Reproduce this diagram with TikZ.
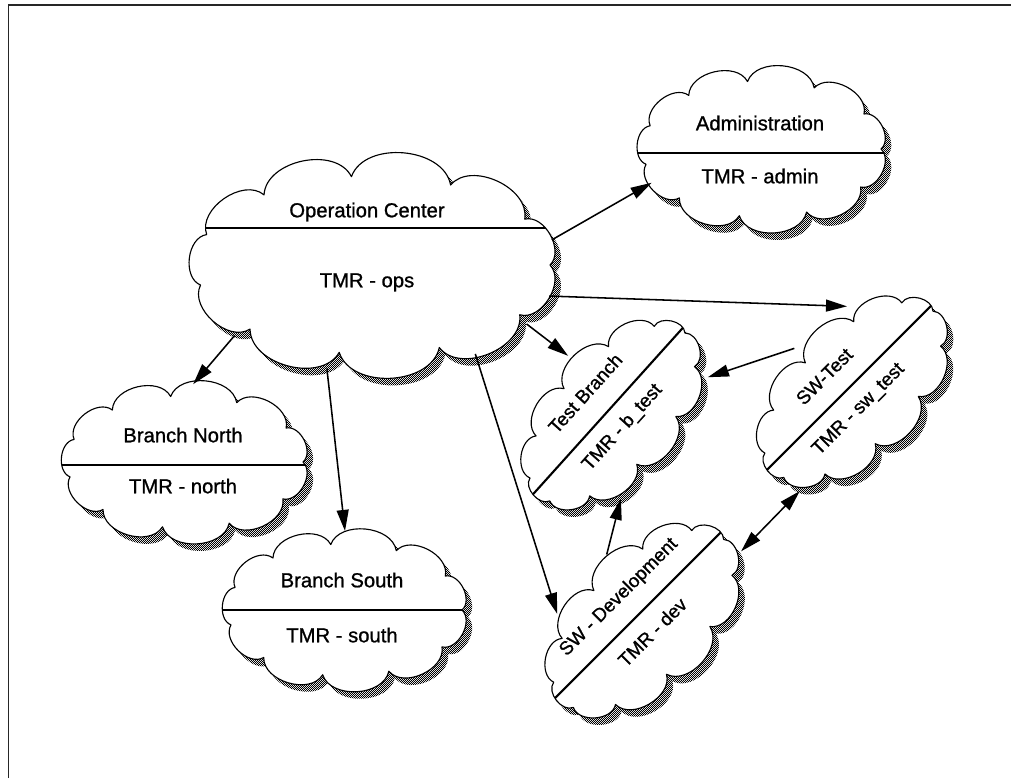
\documentclass[tikz,border=0pt]{standalone}
\usepackage{fontspec}
\setmainfont{Liberation Sans}
\newfontfamily\lblfamily[FakeBold=1]{Liberation Sans}
\usetikzlibrary{shapes.geometric,patterns,arrows.meta}
\pgfdeclarepatternformonly{shadedots}{\pgfqpoint{0pt}{0pt}}{\pgfqpoint{1.42pt}{1.42pt}}{\pgfqpoint{1.42pt}{1.42pt}}{%
  \pgfpathrectangle{\pgfqpoint{0pt}{0pt}}{\pgfqpoint{0.71pt}{0.71pt}}%
  \pgfpathrectangle{\pgfqpoint{0.71pt}{0.71pt}}{\pgfqpoint{0.71pt}{0.71pt}}%
  \pgfusepath{fill}}
\newcommand\hfont{\lblfamily\fontsize{14.4}{17}\selectfont}
\newcommand\rfont{\lblfamily\fontsize{13.4}{16}\selectfont}
\newcommand\cloudpath{(0:{\ca} and {\cb}) to[bend right=75] (31:{\ca} and {\cb}) to[bend right=75] (64:{\ca} and {\cb}) to[bend right=75] (97:{\ca} and {\cb}) to[bend right=75] (128:{\ca} and {\cb}) to[bend right=75] (160:{\ca} and {\cb}) to[bend right=75] (193:{\ca} and {\cb}) to[bend right=75] (226:{\ca} and {\cb}) to[bend right=75] (259:{\ca} and {\cb}) to[bend right=75] (292:{\ca} and {\cb}) to[bend right=75] (326:{\ca} and {\cb}) to[bend right=75] (360:{\ca} and {\cb}) -- cycle}
\tikzset{
  cloudline/.style={draw=black, fill=white, line width=0.8pt, line join=round},
  cloudshadow/.style={pattern=shadedots, pattern color=black},
  divider/.style={line width=1.5pt},
  anchorell/.style={ellipse, inner sep=0pt, outer sep=0pt},
  hlbl/.style={font=\hfont, inner sep=0pt, text height=10.5pt, text depth=3pt},
  rlbl/.style={font=\rfont, inner sep=0pt, text height=10pt, text depth=3pt},
  arr/.style={line width=1.1pt, -{Triangle[length=15pt,width=8.5pt]}},
  arrboth/.style={line width=1.1pt, {Triangle[length=15pt,width=8.5pt]}-{Triangle[length=15pt,width=8.5pt]}},
  frameline/.style={draw=black!85, line width=1.4pt},
}
% #1 cx, #2 cy (image px), #3 rotation, #4 #5 inner cloud radii, #6 divider offset, #7 name, #8 #9 anchor ellipse radii
\newcommand\cloudbody[9]{%
  \def\ca{#4}\def\cb{#5}%
  \begin{scope}[shift={(#1+6,-#2-7)}, rotate=#3]
    \fill[cloudshadow] \cloudpath;
  \end{scope}
  \begin{scope}[shift={(#1,-#2)}, rotate=#3]
    \filldraw[cloudline] \cloudpath;
    \begin{scope}
      \clip \cloudpath;
      \draw[divider] (-400,#6) -- (400,#6);
    \end{scope}
    \node[anchorell, rotate=#3, minimum width={2*#8*0.025cm}, minimum height={2*#9*0.025cm}] (#7) at (0,0) {};
  \end{scope}}
\begin{document}
\begin{tikzpicture}[x=0.025cm, y=0.025cm]
\useasboundingbox (0,0) rectangle (1011,-778);
\fill[white] (0,0) rectangle (1011,-778);
\draw[frameline] (8.5,-778) -- (8.5,-5) -- (1011,-5);

% clouds
\cloudbody{373}{265}{0}{177}{89}{37}{ops}{184}{107}
\cloudbody{762}{149}{0}{119}{68}{-4}{admin}{124}{74}
\cloudbody{185}{462}{0}{118}{66}{-3}{north}{123}{78}
\cloudbody{345}{610}{0}{117}{66}{0}{south}{122}{79}
\cloudbody{612}{414}{48}{109}{53}{5}{tb}{120}{72}
\cloudbody{853}{391}{45}{113}{54}{5}{swt}{122}{72}
\cloudbody{643}{620}{45}{114}{56}{7}{dev}{123}{73}

% labels
\begin{scope}[shift={(373,-265)}]
  \node[hlbl] (ops-t) at (-6,53) {Operation Center};
  \node[hlbl] (ops-s) at (-6,-17) {TMR - ops};
\end{scope}
\begin{scope}[shift={(762,-149)}]
  \node[hlbl] (admin-t) at (-2,24) {Administration};
  \node[hlbl] (admin-s) at (-2,-29) {TMR - admin};
\end{scope}
\begin{scope}[shift={(185,-462)}]
  \node[hlbl] (north-t) at (-2,25) {Branch North};
  \node[hlbl] (north-s) at (-2,-26) {TMR - north};
\end{scope}
\begin{scope}[shift={(345,-610)}]
  \node[hlbl] (south-t) at (-3,28) {Branch South};
  \node[hlbl] (south-s) at (-3,-27) {TMR - south};
\end{scope}
\begin{scope}[shift={(612,-414)}, rotate=48]
  \node[rlbl, rotate=48] (tb-t) at (-2.5,32) {Test Branch};
  \node[rlbl, rotate=48] (tb-s) at (-3,-17) {TMR - b\_test};
\end{scope}
\begin{scope}[shift={(853,-391)}, rotate=45]
  \node[rlbl, rotate=45] (swt-t) at (-10,29) {SW-Test};
  \node[rlbl, rotate=45] (swt-s) at (-9,-17) {TMR - sw\_test};
\end{scope}
\begin{scope}[shift={(643,-620)}, rotate=45]
  \node[rlbl, rotate=45] (dev-t) at (-1,33) {SW - Development};
  \node[rlbl, rotate=45] (dev-s) at (-2,-17) {TMR - dev};
\end{scope}

% connectors
\draw[arr] (ops.8) -- (admin.197);
\draw[arr] (ops.-10) -- (swt.49);
\draw[arr] (ops.-21) -- (tb.79);
\draw[arr] (swt.99) -- (tb.-27);
\draw[arr] (ops.207) -- (north.84);
\draw[arr] (ops.246) -- (south.90);
\draw[arr] (ops.-41) -- (dev.131);
\draw[arr] (dev.74) -- (tb.228);
\draw[arrboth] (dev.-10) -- (swt.197);
\end{tikzpicture}
\end{document}
